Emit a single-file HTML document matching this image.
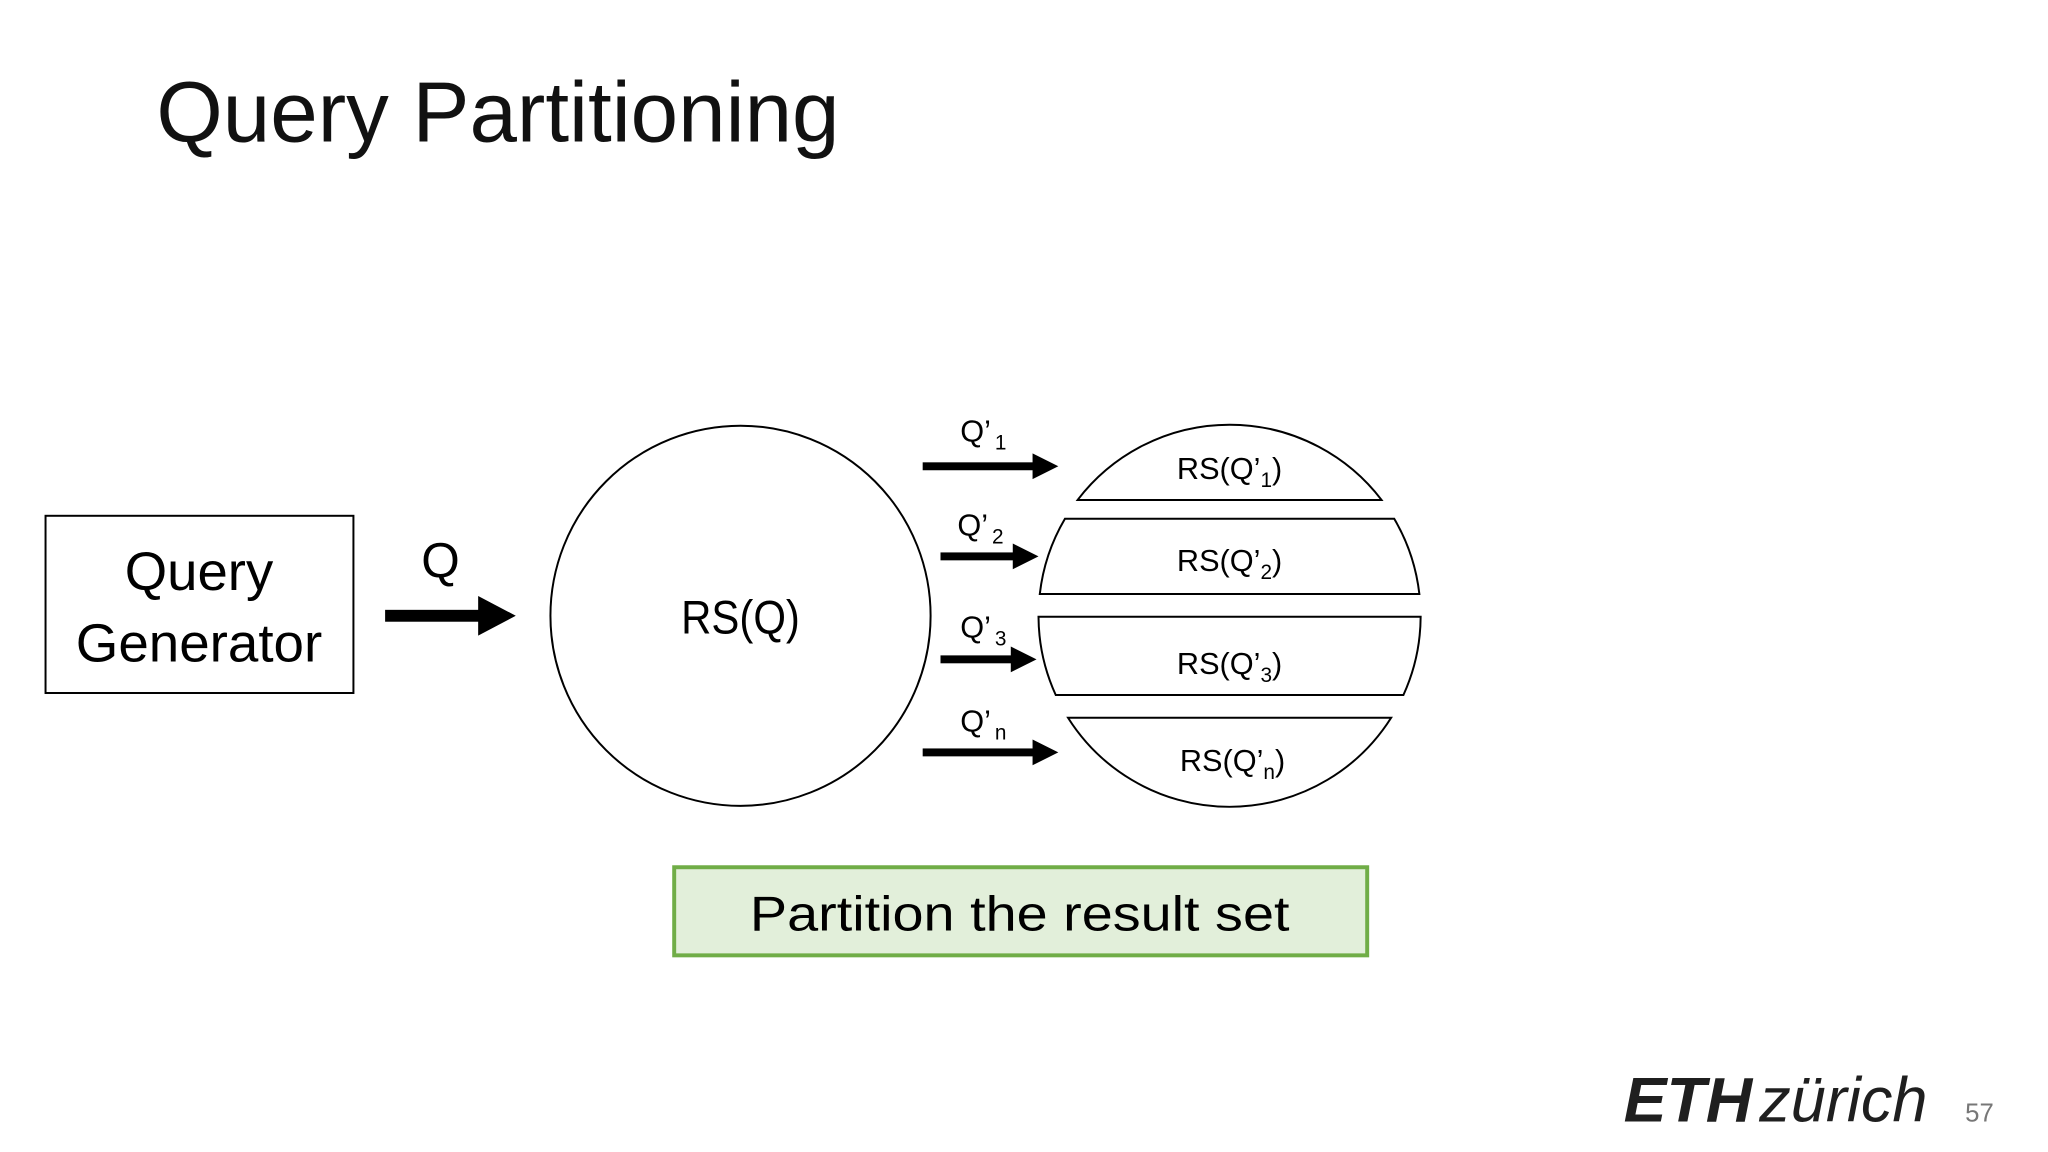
<!DOCTYPE html>
<html><head><meta charset="utf-8"><style>
html,body{margin:0;padding:0;background:#fff;}
svg{display:block;}
text{font-family:"Liberation Sans",sans-serif;}
</style></head><body>
<svg width="2048" height="1152" viewBox="0 0 2048 1152" xmlns="http://www.w3.org/2000/svg">
<g transform="scale(0.99)">
<text x="158" y="143" font-size="86" fill="#111" textLength="690" lengthAdjust="spacingAndGlyphs">Query Partitioning</text>

<rect x="46" y="521" width="311" height="179" fill="#fff" stroke="#000" stroke-width="2"/>
<text x="201" y="596" font-size="54" text-anchor="middle" textLength="150" lengthAdjust="spacingAndGlyphs">Query</text>
<text x="201" y="668" font-size="54" text-anchor="middle" textLength="249" lengthAdjust="spacingAndGlyphs">Generator</text>

<text x="445" y="583" font-size="50" text-anchor="middle">Q</text>
<rect x="389" y="616" width="98" height="12"/>
<polygon points="483,602 521,622 483,642"/>

<circle cx="748" cy="622" r="192" fill="none" stroke="#000" stroke-width="2"/>
<text x="748" y="640" font-size="48" text-anchor="middle" textLength="120" lengthAdjust="spacingAndGlyphs">RS(Q)</text>

<g fill="none" stroke="#000" stroke-width="2">
<path d="M1088.5,505 A193,193 0 0 1 1395.5,505 Z"/>
<path d="M1075.7,524 L1408.3,524 A193,193 0 0 1 1433.7,600 L1050.3,600 A193,193 0 0 1 1075.7,524 Z"/>
<path d="M1049,623 L1435,623 A193,193 0 0 1 1417.6,702 L1066.4,702 A193,193 0 0 1 1049,623 Z"/>
<path d="M1078.8,725 L1405.2,725 A193,193 0 0 1 1078.8,725 Z"/>
</g>

<g font-size="31" text-anchor="middle">
<text x="1242" y="484">RS(Q’<tspan font-size="21" dy="8">1</tspan><tspan dy="-8">)</tspan></text>
<text x="1242" y="577">RS(Q’<tspan font-size="21" dy="8">2</tspan><tspan dy="-8">)</tspan></text>
<text x="1242" y="681">RS(Q’<tspan font-size="21" dy="8">3</tspan><tspan dy="-8">)</tspan></text>
<text x="1245" y="779">RS(Q’<tspan font-size="21" dy="8">n</tspan><tspan dy="-8">)</tspan></text>
</g>
<g font-size="31">
<text x="970" y="446">Q’<tspan font-size="21" dx="4" dy="8">1</tspan></text>
<text x="967" y="541">Q’<tspan font-size="21" dx="4" dy="8">2</tspan></text>
<text x="970" y="644">Q’<tspan font-size="21" dx="4" dy="8">3</tspan></text>
<text x="970" y="739">Q’<tspan font-size="21" dx="4" dy="8">n</tspan></text>
</g>
<rect x="932" y="467" width="114" height="8"/><polygon points="1043,458 1069,471 1043,484"/>
<rect x="950" y="558" width="76" height="8"/><polygon points="1023,549 1049,562 1023,575"/>
<rect x="950" y="662" width="74" height="8"/><polygon points="1021,653 1047,666 1021,679"/>
<rect x="932" y="756" width="114" height="8"/><polygon points="1043,747 1069,760 1043,773"/>

<rect x="681" y="876" width="700" height="89" fill="#e2efda" stroke="#70ad47" stroke-width="4"/>
<text x="1030" y="940" font-size="50" text-anchor="middle" textLength="545" lengthAdjust="spacingAndGlyphs">Partition the result set</text>

<text x="1640" y="1133" font-size="64" font-weight="bold" font-style="italic" textLength="130" lengthAdjust="spacingAndGlyphs" fill="#1f1f1f">ETH</text>
<text x="1777" y="1133" font-size="64" font-style="italic" textLength="170" lengthAdjust="spacingAndGlyphs" fill="#1f1f1f">zürich</text>
<text x="1985" y="1133" font-size="26" fill="#777">57</text>
</g>
</svg>
</body></html>
